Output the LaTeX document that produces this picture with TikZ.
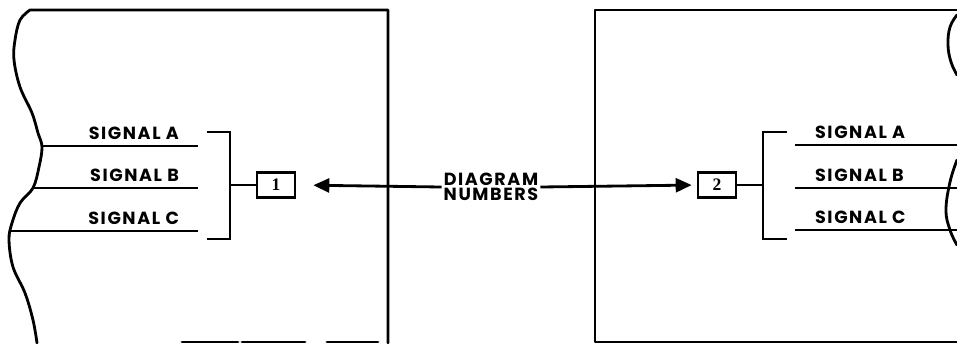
\documentclass[tikz,border=0pt]{standalone}
\usepackage{fontspec}
\setmainfont{Poppins}
\newfontfamily\numfont{Liberation Serif}
\newfontfamily\lblfont[LetterSpace=9]{Poppins}
\usetikzlibrary{arrows.meta,positioning}

\begin{document}
\begin{tikzpicture}[x=0.02cm, y=-0.02cm,
  edge/.style={line width=1.6pt, line cap=round, line join=round},
  wire/.style={line width=1.6pt},
  numbox/.style={draw, line width=1.5pt, minimum width=0.76cm, minimum height=0.5cm,
    inner sep=0pt, font=\numfont\bfseries},
  siglbl/.style={font=\lblfont\bfseries\fontsize{10}{10}\selectfont, inner sep=1pt},
  arr/.style={-{Triangle[length=3.2mm, width=2.8mm]}, line width=1.6pt}
]
  \useasboundingbox (0,0) rectangle (957,343);

  % left panel, torn on its left side
  \draw[edge] (37,343) plot[smooth, tension=0.6] coordinates {(37,343) (33,320) (25,293)
    (13,267) (9,240) (12,223) (20,203) (33,188) (39,167) (42,147) (38,133) (32,113)
    (20,87) (14,60) (15,40) (20,20) (30,10)} -- (388,10) -- (388,343);
  \draw[edge] (182,342) -- (238,342) (242,342) -- (305,342) (327,342) -- (378,342);

  % right panel, torn on its right side
  \draw[edge] (957,10) -- (595,10) -- (595,342) -- (957,342);
  \draw[edge] plot[smooth, tension=0.7] coordinates {(957,15) (950,27) (948,45) (951,62) (957,75)};
  \draw[edge] plot[smooth, tension=0.7] coordinates {(957,160) (950,182) (946,210) (950,230) (957,245)};

  % left signals
  \coordinate (la) at (42,146);  \coordinate (la') at (198,146);
  \coordinate (lb) at (33,188);  \coordinate (lb') at (198,188);
  \coordinate (lc) at (11,231);  \coordinate (lc') at (198,231);
  \draw[wire] (la) -- (la');
  \draw[wire] (lb) -- (lb');
  \draw[wire] (lc) -- (lc');
  \node[siglbl, anchor=south east] (sigAl) at (181,142) {SIGNAL A};
  \node[siglbl, anchor=south east] (sigBl) at (181,184) {SIGNAL B};
  \node[siglbl, anchor=south east] (sigCl) at (181,227) {SIGNAL C};

  \node[numbox] (box1) at (276,185) {1};
  \coordinate (brl) at (230,185);
  \draw[wire] (207,132) -- (230,132) -- (230,239) -- (207,239);
  \draw[wire] (brl) -- (box1);

  % right signals
  \coordinate (ra) at (795,145);  \coordinate (ra') at (957,145);
  \coordinate (rb) at (795,188);  \coordinate (rb') at (957,188);
  \coordinate (rc) at (795,230);  \coordinate (rc') at (957,230);
  \draw[wire] (ra) -- (ra');
  \draw[wire] (rb) -- (rb');
  \draw[wire] (rc) -- (rc');
  \node[siglbl, anchor=south west] (sigAr) at (813,141) {SIGNAL A};
  \node[siglbl, anchor=south west] (sigBr) at (813,184) {SIGNAL B};
  \node[siglbl, anchor=south west] (sigCr) at (813,226) {SIGNAL C};

  \node[numbox] (box2) at (717,185) {2};
  \coordinate (brr) at (763,185);
  \draw[wire] (787,132) -- (763,132) -- (763,239) -- (787,239);
  \draw[wire] (brr) -- (box2);

  % the two pointers
  \node[siglbl, align=center, font=\lblfont\bfseries\fontsize{10}{8.5}\selectfont] (dnum) at (491,187) {DIAGRAM\\NUMBERS};
  \draw[arr, shorten >=17*0.02cm] (dnum.west) -- (box1.east);
  \draw[arr, shorten >=5*0.02cm] (dnum.east) -- (box2.west);
\end{tikzpicture}
\end{document}
